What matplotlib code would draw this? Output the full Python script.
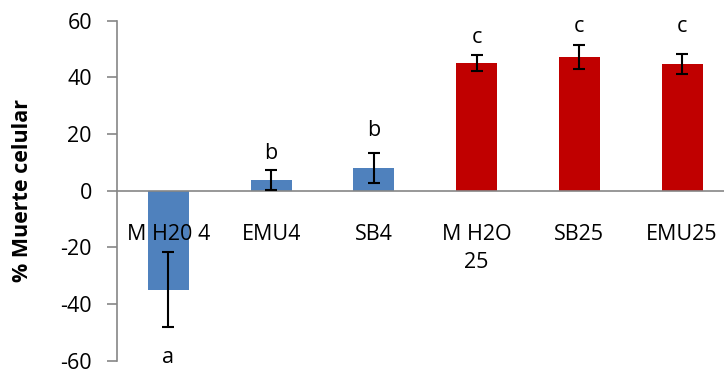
import matplotlib
matplotlib.use("Agg")
import matplotlib.pyplot as plt

categories = ["M H20 4", "EMU4", "SB4", "M H2O\n25", "SB25", "EMU25"]
values = [-35.0, 3.8, 8.0, 45.1, 47.2, 44.7]
errors = [13.2, 3.6, 5.2, 2.8, 4.3, 3.6]
letters = ["a", "b", "b", "c", "c", "c"]
letter_y = [-58.7, 13.0, 21.4, 53.9, 57.8, 57.8]
bar_colors = ["#4F81BD", "#4F81BD", "#4F81BD", "#C00000", "#C00000", "#C00000"]
yticks = [-60, -40, -20, 0, 20, 40, 60]

W, H = 724, 372
fig = plt.figure(figsize=(W / 100, H / 100), dpi=100)
plt.rcParams['font.family'] = ['Open Sans', 'DejaVu Sans']
FS = 15.5

x0, x1 = 117, 733.5
y_top, y_bot = 20.7, 360.7
ax = fig.add_axes([x0 / W, 1 - y_bot / H, (x1 - x0) / W, (y_bot - y_top) / H])
ax.set_xlim(-0.5, len(categories) - 0.5)
ax.set_ylim(-60, 60)

xs = list(range(len(categories)))
ax.bar(xs, values, width=0.4, color=bar_colors, zorder=1)
ax.errorbar(xs, values, yerr=errors, fmt='none', ecolor='black',
            elinewidth=1.5, capsize=4.5, capthick=1.5, zorder=3)

for x, l, ly in zip(xs, letters, letter_y):
    ax.text(x, ly, l, ha='center', va='center', fontsize=FS, color='black')

gray = '#868686'
for s in ['top', 'right']:
    ax.spines[s].set_visible(False)
ax.spines['left'].set_color(gray)
ax.spines['left'].set_linewidth(1.2)
ax.spines['bottom'].set_position(('data', 0))
ax.spines['bottom'].set_color(gray)
ax.spines['bottom'].set_linewidth(1.2)
ax.spines['bottom'].set_zorder(2)
ax.xaxis.set_zorder(5)

ax.set_yticks(yticks)
ax.set_yticklabels([str(t) for t in yticks], fontsize=FS)
ax.tick_params(axis='y', length=7, width=1.2, color=gray, pad=11)

ax.set_xticks(xs)
ax.set_xticklabels(categories, fontsize=FS, linespacing=1.45, va='top')
ax.tick_params(axis='x', length=0, pad=24)

fig.text(23 / W, 1 - 191 / H, "% Muerte celular", rotation=90, ha='center',
         va='center', fontsize=FS, fontweight='bold')

fig.savefig("out.png", dpi=100)
